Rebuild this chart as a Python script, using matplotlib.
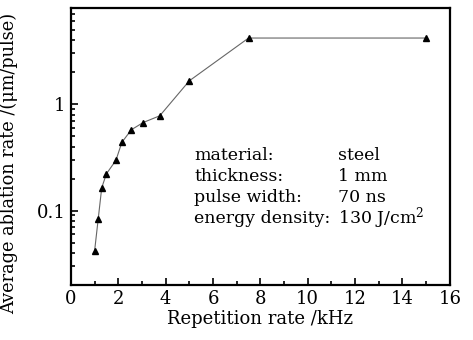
import matplotlib
matplotlib.use("Agg")
import matplotlib.pyplot as plt
from matplotlib.ticker import FixedLocator, NullFormatter, FixedFormatter, MultipleLocator

rep_rate = [1.0, 1.15, 1.3, 1.5, 1.9, 2.15, 2.55, 3.05, 3.75, 5.0, 7.5, 15.0]
ablation = [0.042, 0.083, 0.164, 0.222, 0.297, 0.438, 0.575, 0.673, 0.778, 1.66, 4.19, 4.19]
x_ticks = [0, 2, 4, 6, 8, 10, 12, 14, 16]
y_ticks = [0.1, 1]
y_tick_labels = ["0.1", "1"]
info_keys = ["material:", "thickness:", "pulse width:", "energy density:"]
info_vals = ["steel", "1 mm", "70 ns", "130 J/cm$^2$"]

plt.rcParams['font.family'] = ['DejaVu Serif']
plt.rcParams['mathtext.fontset'] = 'dejavuserif'

fig = plt.figure(figsize=(4.73, 3.4), dpi=100)
ax = fig.add_axes([0.150, 0.162, 0.801, 0.814])
ax.plot(rep_rate, ablation, color='#666666', lw=0.8, marker='^', ms=5,
        mfc='black', mec='black')
ax.set_yscale('log')
ax.set_xlim(0, 16)
ax.set_ylim(0.02, 8)

ax.xaxis.set_major_locator(FixedLocator(x_ticks))
ax.xaxis.set_minor_locator(MultipleLocator(1))
ax.yaxis.set_major_locator(FixedLocator(y_ticks))
ax.yaxis.set_major_formatter(FixedFormatter(y_tick_labels))
minor = [k * 10.0 ** e for e in (-2, -1, 0) for k in range(2, 10) if 0.02 <= k * 10.0 ** e <= 8]
ax.yaxis.set_minor_locator(FixedLocator(minor))
ax.yaxis.set_minor_formatter(NullFormatter())

ax.tick_params(which='both', direction='in', top=False, right=False,
               labelsize=13, width=1.2, color='black', pad=4)
ax.tick_params(which='major', length=5)
ax.tick_params(which='minor', length=3)
for s in ax.spines.values():
    s.set_linewidth(1.6)

ax.set_xlabel("Repetition rate /kHz", fontsize=13, labelpad=1)
ax.set_ylabel("Average ablation rate /(\u03bcm/pulse)", fontsize=12.8, labelpad=3)
ax.yaxis.set_label_coords(-0.14, 0.44)

y0 = 0.469
dy = 0.076
for i, (k, v) in enumerate(zip(info_keys, info_vals)):
    ax.text(0.325, y0 - i * dy, k, transform=ax.transAxes, fontsize=12.5, va='center')
    ax.text(0.704, y0 - i * dy, v, transform=ax.transAxes, fontsize=12.5, va='center')

fig.savefig("out.png", dpi=100)
